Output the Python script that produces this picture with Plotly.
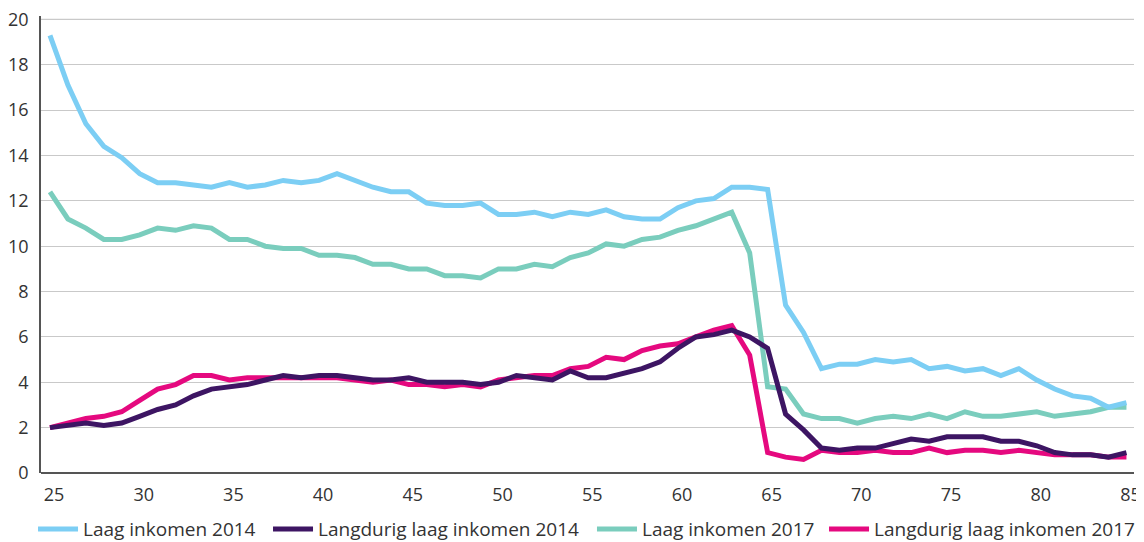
import plotly.graph_objects as go

ages = list(range(25, 86))

laag_2014 = [19.3, 17.1, 15.4, 14.4, 13.9, 13.2, 12.8, 12.8, 12.7, 12.6,
             12.8, 12.6, 12.7, 12.9, 12.8, 12.9, 13.2, 12.9, 12.6, 12.4,
             12.4, 11.9, 11.8, 11.8, 11.9, 11.4, 11.4, 11.5, 11.3, 11.5,
             11.4, 11.6, 11.3, 11.2, 11.2, 11.7, 12.0, 12.1, 12.6, 12.6,
             12.5, 7.4, 6.2, 4.6, 4.8, 4.8, 5.0, 4.9, 5.0, 4.6,
             4.7, 4.5, 4.6, 4.3, 4.6, 4.1, 3.7, 3.4, 3.3, 2.9, 3.1]

langdurig_2014 = [2.0, 2.1, 2.2, 2.1, 2.2, 2.5, 2.8, 3.0, 3.4, 3.7,
                  3.8, 3.9, 4.1, 4.3, 4.2, 4.3, 4.3, 4.2, 4.1, 4.1,
                  4.2, 4.0, 4.0, 4.0, 3.9, 4.0, 4.3, 4.2, 4.1, 4.5,
                  4.2, 4.2, 4.4, 4.6, 4.9, 5.5, 6.0, 6.1, 6.3, 6.0,
                  5.5, 2.6, 1.9, 1.1, 1.0, 1.1, 1.1, 1.3, 1.5, 1.4,
                  1.6, 1.6, 1.6, 1.4, 1.4, 1.2, 0.9, 0.8, 0.8, 0.7, 0.9]

laag_2017 = [12.4, 11.2, 10.8, 10.3, 10.3, 10.5, 10.8, 10.7, 10.9, 10.8,
             10.3, 10.3, 10.0, 9.9, 9.9, 9.6, 9.6, 9.5, 9.2, 9.2,
             9.0, 9.0, 8.7, 8.7, 8.6, 9.0, 9.0, 9.2, 9.1, 9.5,
             9.7, 10.1, 10.0, 10.3, 10.4, 10.7, 10.9, 11.2, 11.5, 9.7,
             3.8, 3.7, 2.6, 2.4, 2.4, 2.2, 2.4, 2.5, 2.4, 2.6,
             2.4, 2.7, 2.5, 2.5, 2.6, 2.7, 2.5, 2.6, 2.7, 2.9, 2.9]

langdurig_2017 = [2.0, 2.2, 2.4, 2.5, 2.7, 3.2, 3.7, 3.9, 4.3, 4.3,
                  4.1, 4.2, 4.2, 4.2, 4.2, 4.2, 4.2, 4.1, 4.0, 4.1,
                  3.9, 3.9, 3.8, 3.9, 3.8, 4.1, 4.2, 4.3, 4.3, 4.6,
                  4.7, 5.1, 5.0, 5.4, 5.6, 5.7, 6.0, 6.3, 6.5, 5.2,
                  0.9, 0.7, 0.6, 1.0, 0.9, 0.9, 1.0, 0.9, 0.9, 1.1,
                  0.9, 1.0, 1.0, 0.9, 1.0, 0.9, 0.8, 0.8, 0.8, 0.7, 0.7]

x_ticks = list(range(25, 90, 5))
y_ticks = list(range(0, 22, 2))

names = ["Laag inkomen 2014", "Langdurig laag inkomen 2014",
         "Laag inkomen 2017", "Langdurig laag inkomen 2017"]
colors = ["#7ccef4", "#3d1563", "#7acdbd", "#e5097f"]
series = [laag_2014, langdurig_2014, laag_2017, langdurig_2017]
legend_ids = ["legend", "legend2", "legend3", "legend4"]
legend_x = [-0.0073, 0.2077, 0.5041, 0.7164]

fig = go.Figure()
# draw order: 2017 series underneath, 2014 on top
for idx in [2, 3, 0, 1]:
    fig.add_trace(go.Scatter(
        x=ages, y=series[idx], mode="lines", name=names[idx],
        line=dict(color=colors[idx], width=5),
        legend=legend_ids[idx],
    ))

grid_color = "#c9c9c9"
# top gridline (drawn explicitly so it is not dropped at the axis edge)
fig.add_hline(y=y_ticks[-1], line=dict(color=grid_color, width=1.2),
              layer="below")

font_family = "Open Sans, Noto Sans, sans-serif"
legend_common = dict(orientation="h", xanchor="left", y=-0.123,
                     yanchor="middle", bgcolor="rgba(0,0,0,0)",
                     font=dict(size=19, color="#333333"), itemwidth=40)

layout_legends = {}
for lid, lx in zip(legend_ids, legend_x):
    layout_legends[lid] = dict(x=lx, **legend_common)

fig.update_layout(
    width=1136, height=534,
    margin=dict(l=33, r=10, t=8, b=69, autoexpand=False),
    paper_bgcolor="white", plot_bgcolor="white",
    font=dict(family=font_family, size=19, color="#333333"),
    showlegend=True,
    xaxis=dict(range=[24.5, 85.42], tickvals=x_ticks, showgrid=False,
               zeroline=False, showline=False, ticks="", automargin=False,
               ticklabelstandoff=9, ticklabelshift=4,
               ticklabeloverflow="allow",
               tickfont=dict(size=18, color="#333333")),
    yaxis=dict(range=[0, 20.15], tickvals=y_ticks, showgrid=True,
               gridcolor=grid_color, gridwidth=1.2, zeroline=True,
               zerolinecolor="#555555", zerolinewidth=1.8,
               showline=True, linecolor="#555555", linewidth=1.8,
               ticks="", ticklabelstandoff=7, automargin=False,
               ticklabeloverflow="allow",
               tickfont=dict(size=18, color="#333333")),
    **layout_legends,
)

fig.write_html("out.html")
